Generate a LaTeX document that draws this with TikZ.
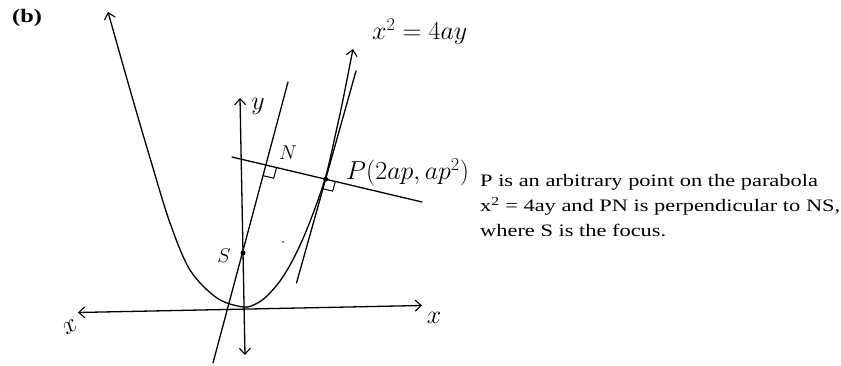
\RequirePackage{fix-cm}
\documentclass[tikz,border=0pt]{standalone}
\usepackage{fontspec}
\newfontfamily\txtfont[FakeStretch=1.28]{Liberation Serif}
\usetikzlibrary{arrows.meta,calc}
\begin{document}
\begin{tikzpicture}[x=1pt,y=-1pt,
  ink/.style={line width=1.3pt, black, line cap=round, line join=round},
  thinink/.style={line width=1pt, black},
  barb/.tip={Straight Barb[length=6pt,width=11pt,line width=1.1pt]},
  dot/.style={circle, fill=black, inner sep=0pt, minimum size=5pt},
  hand/.style={inner sep=0pt, font=\fontsize{26}{26}\selectfont},
  handsmall/.style={inner sep=0pt, font=\fontsize{20}{20}\selectfont},
  prose/.style={inner sep=0pt, anchor=base west, font=\txtfont\fontsize{17.5}{25}\selectfont}]
\useasboundingbox (0,0) rectangle (841,366);

% line end points
\coordinate (xl) at (78,312.5);
\coordinate (xr) at (422,305.5);
\coordinate (yb) at (245,355);
\coordinate (yt) at (240,98);
\coordinate (PNa) at (232,157);
\coordinate (PNb) at (422,202);
\coordinate (SNa) at (213,363);
\coordinate (SNb) at (288,82);
\coordinate (Ta) at (296.5,283);
\coordinate (Tb) at (356,71);
\coordinate (N) at (intersection of PNa--PNb and SNa--SNb);
\coordinate (Pc) at (intersection of PNa--PNb and Ta--Tb);

% axes
\draw[ink, {barb}-{barb}] (xl) -- (xr);
\draw[ink, {barb}-{barb}] (yb) -- (yt);

% parabola
\draw[ink, {barb}-{barb}] plot[smooth, tension=0.55] coordinates {
  (108,12) (133,100) (153,168) (170,223) (190,270) (217,298) (243,307)
  (255.6,304) (265.9,297) (279.3,282) (291.7,262) (303.7,237) (315.5,207)
  (325,179) (330.5,157) (336,132) (341.5,107) (347.5,77) (353,49)};

% lines
\draw[ink] (PNa) -- (PNb);
\draw[ink] (SNa) -- (SNb);
\draw[ink] (Ta) -- (Tb);

% right-angle marks
\coordinate (Na) at ($(N)!11pt!(PNb)$);
\coordinate (Nb) at ($(N)!11pt!(SNa)$);
\draw[thinink] (Na) -- ($(Na)+(Nb)-(N)$) -- (Nb);
\coordinate (Pa) at ($(Pc)!10pt!(PNb)$);
\coordinate (Pb) at ($(Pc)!10pt!(Ta)$);
\draw[thinink] (Pa) -- ($(Pa)+(Pb)-(Pc)$) -- (Pb);

% points
\node[dot] (S) at (243,253) {};
\node[dot] (P) at (Pc) {};
\fill (283,242) circle (0.8pt);

% handwritten labels
\node[hand, anchor=base west] (eq) at (372,40) {$x^{2}=4ay$};
\node[hand] (ylab) at (258,106) {$y$};
\node[handsmall] (Nlab) at (288,153) {$N$};
\node[hand, anchor=base west] (Plab) at (346,180) {$P(2ap,ap^{2})$};
\node[handsmall] (Slab) at (224,256) {$S$};
\node[hand, rotate=30] (xleft) at (70,327) {$x$};
\node[hand] (xright) at (434,318) {$x$};

% printed text
\node[prose, font=\txtfont\bfseries\fontsize{19}{25}\selectfont] (b) at (12,23) {(b)};
\node[prose] (t1) at (480,186.7) {P is an arbitrary point on the parabola};
\node[prose] (t2) at (480,211.7) {x\textsuperscript{2} = 4ay and PN is perpendicular to NS,};
\node[prose] (t3) at (480,236.7) {where S is the focus.};
\end{tikzpicture}
\end{document}
